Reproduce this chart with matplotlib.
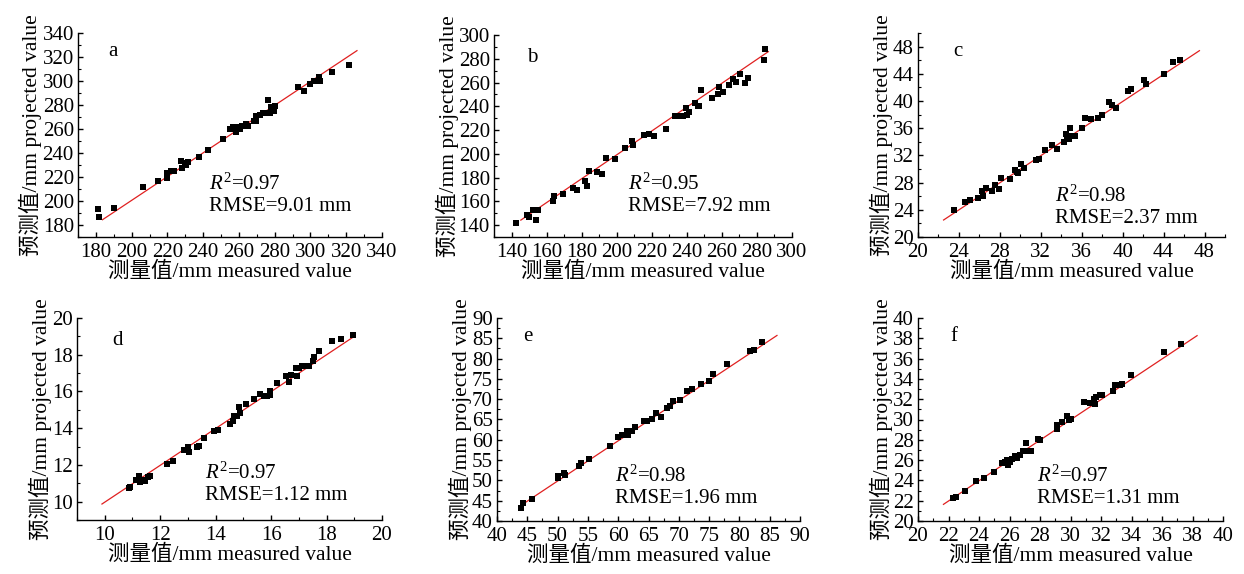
import matplotlib
matplotlib.use('Agg')
import matplotlib.pyplot as plt
from matplotlib.ticker import MultipleLocator

plt.rcParams['font.family'] = ['Liberation Serif', 'Noto Sans CJK SC']
plt.rcParams['mathtext.fontset'] = 'custom'
plt.rcParams['mathtext.rm'] = 'Liberation Serif'
plt.rcParams['mathtext.it'] = 'Liberation Serif:italic'

xlabel = '测量值/mm measured value'
ylabel = '预测值/mm projected value'

# a
a_x = [181.2, 181.8, 190.2, 206.5, 214.8, 219.6, 219.6, 222.1, 223.6, 227.7, 228.1, 229.6, 231.4, 230.5,
       237.4, 242.7, 251.1, 254.8, 256.7, 258.6, 259.5, 260.8, 261.9, 264.2, 265.1, 268.3, 269.8, 269.8,
       271.7, 273.6, 275.4, 276.4, 277.3, 278.2, 279.6, 280.1, 292.8, 296.4, 299.8, 302.2, 304.5, 305.4,
       312.0, 321.3]
a_y = [193.3, 186.7, 193.9, 211.4, 217.0, 223.3, 219.2, 225.3, 225.3, 233.0, 227.5, 231.7, 232.5, 229.7,
       236.7, 242.2, 251.9, 260.0, 261.7, 257.2, 261.4, 260.3, 262.2, 264.4, 262.8, 266.4, 270.6, 266.7,
       272.0, 273.3, 273.3, 283.9, 273.3, 278.3, 274.7, 279.4, 294.7, 291.7, 297.5, 300.3, 303.3, 299.7,
       307.5, 313.6]
a_line_x = [183.7, 326.0]
a_line_y = [184.4, 325.3]

# b
b_x = [142.5, 148.6, 150.1, 152.0, 153.9, 154.9, 163.4, 164.2, 169.1, 174.9, 177.1, 181.9, 183.2, 184.2,
       189.0, 191.8, 193.7, 199.0, 204.8, 208.6, 209.1, 215.8, 218.7, 221.5, 228.2, 233.0, 235.8, 238.1,
       239.4, 240.0, 241.0, 244.8, 246.1, 247.2, 248.0, 254.3, 257.5, 258.5, 260.4, 263.8, 266.3, 268.2,
       270.1, 273.0, 274.9, 284.0, 284.5]
b_y = [141.9, 148.1, 146.7, 152.6, 144.2, 152.6, 160.1, 164.9, 166.6, 171.0, 169.9, 177.5, 172.7, 185.9,
       184.5, 183.4, 196.1, 195.7, 204.6, 210.5, 207.1, 215.8, 216.4, 214.7, 220.8, 231.5, 232.0, 232.0,
       238.5, 232.9, 234.8, 242.7, 240.4, 240.4, 253.3, 247.4, 250.2, 256.1, 252.4, 258.0, 263.1, 260.8,
       267.0, 259.4, 264.2, 279.0, 288.0]
b_line_x = [145.3, 286.5]
b_line_y = [144.2, 286.0]

# c
c_x = [23.5, 24.6, 25.1, 25.9, 26.3, 26.4, 26.6, 27.2, 27.5, 27.9, 28.1, 29.0, 29.5, 29.7, 29.8, 30.1,
       30.4, 31.5, 31.8, 32.4, 33.1, 33.6, 34.3, 34.5, 34.6, 34.8, 34.9, 35.0, 35.3, 36.0, 36.3, 36.9,
       37.6, 38.0, 38.7, 39.0, 39.3, 40.5, 40.8, 42.1, 42.3, 44.0, 44.9, 45.6]
c_y = [24.0, 25.2, 25.5, 25.8, 26.8, 26.1, 27.2, 26.8, 27.7, 27.1, 28.7, 28.5, 29.9, 29.5, 29.4, 30.8,
       30.1, 31.3, 31.5, 32.8, 33.5, 32.9, 33.9, 35.2, 34.8, 34.4, 36.0, 34.9, 34.9, 36.0, 37.5, 37.4,
       37.5, 38.0, 39.8, 39.4, 38.9, 41.4, 41.8, 43.1, 42.5, 43.9, 45.8, 46.0]
c_line_x = [22.5, 47.5]
c_line_y = [22.5, 47.4]

# d
d_x = [10.87, 10.92, 11.14, 11.22, 11.29, 11.38, 11.46, 11.56, 11.62, 12.25, 12.48, 12.85, 12.99, 13.05,
       13.33, 13.39, 13.59, 13.95, 14.10, 14.53, 14.63, 14.67, 14.77, 14.83, 14.89, 15.11, 15.39, 15.59,
       15.75, 15.87, 15.96, 15.96, 16.23, 16.53, 16.65, 16.73, 16.89, 16.95, 17.01, 17.13, 17.25, 17.37,
       17.51, 17.54, 17.72, 18.20, 18.53, 18.96]
d_y = [10.75, 10.78, 11.20, 11.39, 11.09, 11.19, 11.15, 11.33, 11.42, 12.06, 12.19, 12.83, 12.97, 12.70,
       12.97, 13.03, 13.49, 13.83, 13.92, 14.25, 14.40, 14.67, 14.65, 15.16, 14.84, 15.29, 15.57, 15.86,
       15.77, 15.77, 16.02, 15.80, 16.48, 16.86, 16.53, 16.90, 17.26, 16.84, 17.30, 17.39, 17.39, 17.39,
       17.68, 17.85, 18.18, 18.76, 18.85, 19.05]
d_line_x = [9.9, 19.0]
d_line_y = [9.87, 19.0]

# e
e_x = [44.0, 44.3, 45.8, 50.0, 50.1, 51.0, 51.2, 53.5, 53.9, 55.1, 58.7, 59.9, 60.7, 61.4, 61.6, 62.3,
       62.7, 64.3, 64.8, 65.5, 66.3, 67.1, 68.0, 68.6, 69.0, 70.2, 71.3, 72.1, 73.6, 75.0, 75.6, 78.0,
       81.7, 82.4, 83.8]
e_y = [43.3, 44.5, 45.5, 50.5, 51.0, 51.7, 51.4, 53.5, 54.4, 55.2, 58.5, 60.8, 61.3, 62.2, 61.2, 62.2,
       63.1, 64.7, 64.7, 65.0, 66.7, 65.7, 67.8, 68.4, 69.6, 69.8, 71.9, 72.5, 73.8, 74.6, 76.2, 78.6,
       81.8, 82.0, 84.1]
e_line_x = [44.0, 86.2]
e_line_y = [43.9, 85.7]

# f
f_x = [22.29, 22.49, 23.07, 23.83, 24.34, 25.01, 25.52, 25.68, 25.84, 25.90, 26.06, 26.19, 26.35, 26.50,
       26.68, 26.90, 27.08, 27.24, 27.39, 27.86, 28.02, 29.09, 29.13, 29.47, 29.76, 29.91, 30.02, 30.91,
       31.25, 31.51, 31.58, 31.69, 31.91, 32.09, 32.81, 32.92, 33.14, 33.25, 33.36, 33.99, 36.15, 37.26]
f_y = [22.24, 22.34, 22.96, 23.95, 24.28, 24.80, 25.69, 25.86, 26.02, 25.53, 25.79, 26.12, 26.45, 26.18,
       26.51, 26.94, 27.66, 26.94, 26.94, 28.09, 27.99, 29.08, 29.41, 29.74, 30.36, 29.97, 30.03, 31.71,
       31.61, 32.01, 31.51, 32.20, 32.43, 32.43, 32.83, 33.36, 33.42, 33.36, 33.49, 34.41, 36.61, 37.43]
f_line_x = [21.67, 38.3]
f_line_y = [21.64, 38.26]

letters = ['a', 'b', 'c', 'd', 'e', 'f']
r2 = ['0.97', '0.95', '0.98', '0.97', '0.98', '0.97']
rmse = ['9.01', '7.92', '2.37', '1.12', '1.96', '1.31']
limits = [(170, 340), (130, 300), (20, 50), (9, 20), (40, 90), (20, 40)]
tick_start = [180, 140, 20, 10, 40, 20]
tick_end = [340, 300, 48, 20, 90, 40]
major = [20, 20, 4, 2, 5, 2]

xs = [a_x, b_x, c_x, d_x, e_x, f_x]
ys = [a_y, b_y, c_y, d_y, e_y, f_y]
lxs = [a_line_x, b_line_x, c_line_x, d_line_x, e_line_x, f_line_x]
lys = [a_line_y, b_line_y, c_line_y, d_line_y, e_line_y, f_line_y]

# axes boxes in pixels: left, top, right, bottom
boxes = [(78, 33, 382, 237), (494, 35, 792, 237), (918, 33, 1225, 237),
         (77, 318, 382, 520), (497, 318, 800, 521), (918, 318, 1223, 521)]
letter_pos = [(0.10, 0.91), (0.11, 0.89), (0.114, 0.91), (0.115, 0.89), (0.086, 0.91), (0.106, 0.91)]
stat_pos = [(0.43, 0.26), (0.45, 0.26), (0.446, 0.20), (0.42, 0.23), (0.39, 0.22), (0.39, 0.22)]

W, H = 1244, 574
fig = plt.figure(figsize=(W / 100, H / 100), dpi=100)

for i in range(6):
    l, t, r, b = boxes[i]
    ax = fig.add_axes([l / W, 1 - b / H, (r - l) / W, (b - t) / H])
    ax.scatter(xs[i], ys[i], marker='s', s=20, color='black', linewidths=0, zorder=3)
    ax.plot(lxs[i], lys[i], color='#e02020', lw=0.9, zorder=2)
    lo, hi = limits[i]
    ax.set_xlim(lo, hi)
    ax.set_ylim(lo, hi)
    ticks = list(range(tick_start[i], tick_end[i] + 1, major[i]))
    ax.set_xticks(ticks)
    ax.set_yticks(ticks)
    ax.xaxis.set_minor_locator(MultipleLocator(major[i] / 2))
    ax.yaxis.set_minor_locator(MultipleLocator(major[i] / 2))
    ax.spines['top'].set_visible(False)
    ax.spines['right'].set_visible(False)
    for s in ['left', 'bottom']:
        ax.spines[s].set_linewidth(1.0)
    ax.tick_params(which='major', direction='in', length=3.5, width=1.0, labelsize=15)
    ax.tick_params(axis='x', which='major', pad=4)
    ax.tick_params(axis='y', which='major', pad=3)
    ax.tick_params(which='minor', direction='in', length=2, width=0.8)
    ax.set_xlabel(xlabel, fontsize=15.5, labelpad=0)
    ax.set_ylabel(ylabel, fontsize=15.5, labelpad=0)
    ax.text(letter_pos[i][0], letter_pos[i][1], letters[i], transform=ax.transAxes,
            fontsize=15, ha='left', va='center')
    sx, sy = stat_pos[i]
    ax.text(sx, sy, '$R^2$=' + r2[i], transform=ax.transAxes, fontsize=15, ha='left', va='center')
    ax.text(sx, sy - 0.11, 'RMSE=' + rmse[i] + ' mm', transform=ax.transAxes,
            fontsize=15, ha='left', va='center')

fig.savefig('out.png', dpi=100)
